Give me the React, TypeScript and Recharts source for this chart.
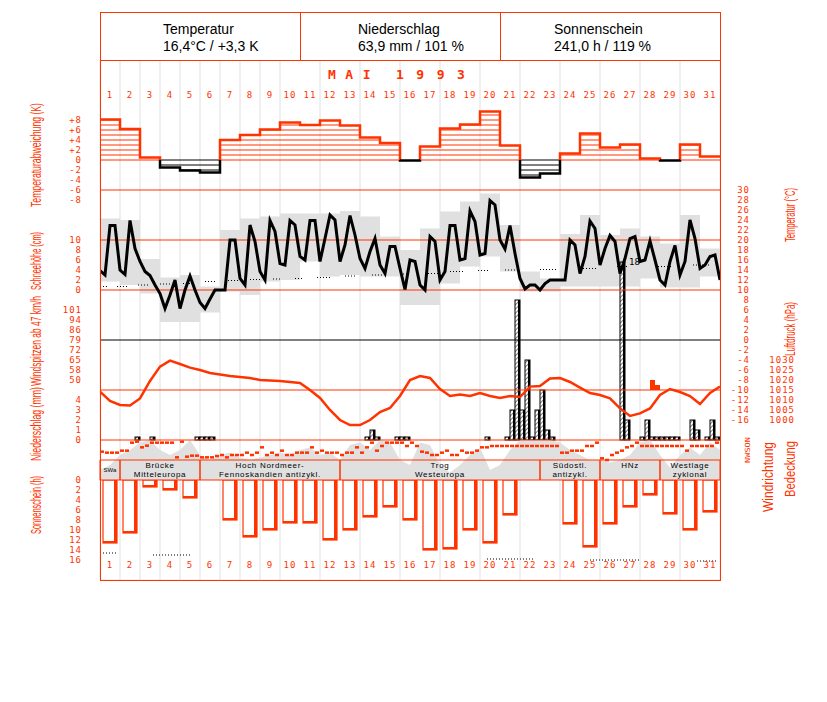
import React from 'react';
import {
  ComposedChart,
  Bar,
  Line,
  Area,
  Scatter,
  XAxis,
  YAxis,
  CartesianGrid,
  ReferenceLine,
  ReferenceArea,
} from 'recharts';

const RED = '#ff3300';
const GREY = '#e0e0e0';
const MONO = '"DejaVu Sans Mono", monospace';
const SANS = '"Liberation Sans", Arial, sans-serif';

// page geometry of the plot strip (all layers share it)
const W = 827;
const H = 520;
const TOP = 60;
const PLOT_LEFT = 100;
const PLOT_RIGHT = 720;

const days = Array.from({ length: 31 }, (_, i) => i + 1);

// Temperaturabweichung vom Mittel, je Tag (K)
const tempDeviation = [
  8.1, 6.2, 0.5, -1.5, -2.1, -2.5, 4.0, 5.0, 6.1, 7.5, 7.0, 7.9, 6.9, 4.5, 3.4, -0.1,
  2.7, 6.3, 7.1, 9.7, 2.9, -3.5, -2.7, 1.3, 5.3, 2.5, 3.1, 0.3, -0.1, 3.1, 0.7,
];

// Lufttemperatur, 6-stuendlich ab 1. Mai 00 Uhr (°C)
const temperature6h = [
  13.9, 13.0, 22.9, 22.9, 14.0, 13.1, 23.9, 18.3, 15.7, 13.7,
  12.9, 11.0, 9.3, 6.3, 9.0, 12.0, 6.3, 10.0, 12.8, 10.0,
  7.5, 6.3, 8.2, 10.0, 10.0, 10.0, 20.0, 20.0, 12.3, 11.0,
  23.0, 19.7, 13.7, 12.0, 23.9, 21.7, 15.3, 15.0, 23.9, 23.0,
  16.7, 16.0, 23.9, 23.9, 15.7, 20.3, 25.0, 24.0, 15.7, 19.0,
  24.9, 21.0, 16.3, 14.3, 17.7, 20.3, 15.0, 13.3, 18.7, 18.7,
  14.3, 10.1, 16.0, 15.7, 11.0, 10.0, 20.7, 19.7, 12.0, 13.7,
  22.9, 22.9, 16.0, 16.3, 25.8, 23.7, 17.0, 17.3, 27.9, 27.0,
  20.0, 18.2, 22.9, 17.3, 12.3, 10.2, 11.0, 11.0, 10.0, 11.3,
  12.0, 12.0, 12.0, 12.0, 20.0, 19.0, 13.3, 16.7, 23.8, 22.3,
  15.0, 18.3, 20.9, 19.7, 13.3, 16.3, 20.3, 20.7, 15.7, 16.0,
  19.8, 16.0, 12.0, 11.0, 15.7, 18.9, 13.0, 15.7, 24.0, 20.3,
  14.3, 15.0, 16.7, 17.0, 12.0,
];

// graue Tagesfelder (Temperaturbereich je Tag, °C)
const tempBoxLow = [
  11.7, 11.0, 9.3, 3.6, 3.6, 5.5, 9.7, 9.0, 11.7, 12.0, 15.7, 12.7, 13.0, 12.7, 12.7, 7.0,
  7.0, 11.3, 14.7, 16.7, 13.7, 9.7, 9.7, 10.7, 10.7, 10.7, 10.7, 12.3, 10.5, 10.5, 12.7,
];
const tempBoxHigh = [
  24.3, 24.0, 16.2, 12.5, 13.0, 10.7, 22.0, 24.3, 24.7, 25.3, 25.3, 25.3, 25.8, 24.7, 20.7, 18.0,
  22.3, 25.7, 27.7, 29.3, 23.0, 13.7, 12.3, 21.2, 25.0, 21.0, 22.3, 20.7, 19.3, 25.0, 18.3,
];

// punktierte Normaltemperatur (von Tag, bis Tag, °C)
const normalTempSegments = [
  [0, 0.35, 10.7], [0.85, 1.4, 10.7], [1.9, 2.5, 11.0], [3.0, 3.6, 11.2], [4.15, 4.75, 11.3],
  [5.25, 5.85, 11.7], [6.4, 7.0, 11.9], [7.5, 8.0, 12.1], [8.65, 9.1, 12.2], [9.75, 10.15, 12.3],
  [10.85, 11.5, 12.5], [12.25, 12.75, 12.8], [13.6, 14.1, 13.0], [15.0, 15.35, 13.2],
  [16.4, 16.9, 13.3], [17.5, 18.15, 13.7], [18.9, 19.5, 13.9], [20.25, 20.85, 14.0],
  [22.0, 22.85, 14.1], [24.15, 24.85, 14.3], [25.85, 26.35, 14.7], [27.9, 28.6, 14.7],
  [29.65, 30.5, 15.0],
];

// Luftdruck, 12-stuendlich (hPa)
const pressure12h = [
  1014.2, 1009.5, 1007.5, 1007.2, 1010.8, 1019.5, 1026.7, 1029.7, 1028.0, 1026.2,
  1025.0, 1023.5, 1022.8, 1022.0, 1021.5, 1021.0, 1020.0, 1019.8, 1019.5, 1019.0,
  1018.5, 1015.0, 1011.0, 1005.0, 1000.0, 997.5, 997.5, 1000.0, 1004.0, 1006.0,
  1012.0, 1020.0, 1022.0, 1021.0, 1015.5, 1012.0, 1012.8, 1012.0, 1013.5, 1012.0,
  1011.0, 1012.0, 1011.5, 1016.7, 1017.0, 1020.8, 1021.0, 1019.0, 1016.2, 1013.5,
  1012.5, 1010.8, 1005.8, 1002.0, 1003.3, 1005.8, 1012.5, 1015.5, 1014.0, 1012.0,
  1008.0, 1013.5, 1016.7,
];

// Bedeckung, 12-stuendlich (Achtel)
const cloud12h = [
  2, 3, 5, 6, 7.5, 8, 6, 5, 6, 8, 5, 4, 5, 5.5, 4.5, 4, 4.5, 5, 5.5, 5, 6, 6.5, 5, 5.5, 4,
  7, 7.5, 6, 8, 7.5, 4, 3, 7.5, 7, 3, 1.5, 3, 5, 6.5, 2, 3, 6, 8, 8, 8, 8, 7.5, 6, 5, 4, 4,
  3.5, 4, 5, 7.5, 8, 5, 2.5, 5, 6.5, 5, 7.5, 6,
];

// Windrichtung, 6-stuendlich (Grad)
const windDir6h = [
  210, 228, 228, 228, 192, 192, 48, 30, 132, 102,
  48, 48, 48, 48, 48, 312, 30, 300, 282, 282,
  312, 312, 312, 288, 270, 312, 270, 270, 270, 228,
  270, 228, 132, 270, 228, 270, 192, 270, 270, 228,
  228, 228, 132, 228, 192, 228, 228, 228, 270, 228,
  228, 132, 228, 132, 48, 192, 108, 48, 48, 48,
  48, 108, 48, 108, 210, 228, 270, 270, 228, 192,
  270, 270, 192, 228, 228, 192, 132, 132, 108, 108,
  108, 108, 108, 108, 108, 108, 108, 108, 108, 108,
  108, 108, 228, 228, 192, 192, 192, 108, 108, 48,
  330, 360, 270, 228, 192, 132, 108, 48, 108, 108,
  108, 108, 108, 108, 108, 108, 108, 192, 108, 108,
  108, 108, 108, 48, 132,
];

// Niederschlag je 6-h-Abschnitt (Abschnitt, mm)
const precipEvents = [
  [7, 0.3], [10, 0.3], [19, 0.3], [20, 0.3], [21, 0.3], [22, 0.3],
  [53, 0.3], [54, 1.0], [55, 0.3], [59, 0.3], [60, 0.3], [61, 0.3], [77, 0.3],
  [81, 0.3], [82, 3.0], [83, 14.0], [84, 3.0], [85, 8.0], [86, 0.3], [87, 3.0], [88, 5.0],
  [89, 1.0], [90, 0.3], [104, 17.8], [105, 2.0], [108, 0.3], [109, 2.0], [110, 0.3],
  [111, 0.3], [112, 0.3], [113, 0.3], [114, 0.3], [115, 0.3], [118, 2.0], [119, 1.0],
  [121, 0.3], [122, 2.0], [123, 0.3],
];

// Windspitzen (Abschnitt, m/s) und Grundwert der Saeulen
const gustEvents = [[110, 14], [111, 13]];
const GUST_BASE = 12;

// Sonnenscheindauer je Tag (h)
const sunshine = [
  12.6, 10.6, 1.4, 2.0, 3.6, 0, 8.0, 11.4, 10.0, 8.6, 8.6, 12.0, 10.0, 7.4, 5.4, 8.0,
  14.0, 13.8, 10.0, 12.6, 7.0, 0, 0, 8.8, 13.4, 8.8, 5.4, 3.0, 6.8, 10.0, 6.4,
];

// moegliche Sonnenscheindauer (von Tag, bis Tag, h)
const sunPossibleSegments = [
  [0, 0.9, 14.6], [2.65, 4.5, 15.0], [19.35, 21.75, 15.8], [24.5, 27.0, 16.0], [29.85, 30.9, 16.2],
];

// Grosswetterlagen (von Tag, bis Tag, Text)
const weatherTypes: { from: number; to: number; lines: string[] }[] = [
  { from: 0, to: 1, lines: ['SWa'] },
  { from: 1, to: 5, lines: ['Brücke', 'Mitteleuropa'] },
  { from: 5, to: 12, lines: ['Hoch Nordmeer-', 'Fennoskandien antizykl.'] },
  { from: 12, to: 22, lines: ['Trog', 'Westeuropa'] },
  { from: 22, to: 25, lines: ['Südostl.', 'antizykl.'] },
  { from: 25, to: 28, lines: ['HNz'] },
  { from: 28, to: 31, lines: ['Westlage', 'zyklonal'] },
];

const headerCells = [
  { title: 'Temperatur', value: '16,4°C / +3,3 K', width: 200, indent: 63 },
  { title: 'Niederschlag', value: '63,9 mm / 101 %', width: 200, indent: 57 },
  { title: 'Sonnenschein', value: '241,0 h / 119 %', width: 221, indent: 53 },
];

const devTicks = [-8, -6, -4, -2, 0, 2, 4, 6, 8];
const snowTicks = [0, 2, 4, 6, 8, 10];
const gustTicks = [14, 16, 18, 20, 22, 24, 26, 28];
const precipTicks = [0, 1, 2, 3, 4];
const sunTicks = [0, 2, 4, 6, 8, 10, 12, 14, 16];
const tempTicks = [-16, -14, -12, -10, -8, -6, -4, -2, 0, 2, 4, 6, 8, 10, 12, 14, 16, 18, 20, 22, 24, 26, 28, 30];
const pressureTicks = [1000, 1005, 1010, 1015, 1020, 1025, 1030];

// ---- tables built from the arrays above ----
const dayData = days.map((day, i) => ({
  day,
  dev: tempDeviation[i],
  lo: tempBoxLow[i],
  hi: tempBoxHigh[i],
  sun: sunshine[i],
}));
const slots = Array.from({ length: 124 }, (_, slot) => slot);
const precipData = slots.map((slot) => ({ slot, mm: precipEvents.find((e) => e[0] === slot)?.[1] ?? 0 }));
const gustData = slots.map((slot) => ({ slot, gust: gustEvents.find((e) => e[0] === slot)?.[1] ?? GUST_BASE }));
const tempData = temperature6h.map((t, i) => ({ x: i / 4, t }));
const pressureData = pressure12h.map((p, i) => ({ x: i / 2, p }));
const cloudData = cloud12h.map((c, i) => ({ x: i / 2, c }));
const windData = windDir6h.map((d, i) => ({ x: i / 4 + 0.1, dir: Math.min(d, 360) }));
const segData = (segs: number[][]) =>
  segs.flatMap(([a, b, v]) => [{ x: a, v }, { x: b, v }, { x: b, v: null }]);
const normalData = segData(normalTempSegments);
const sunPossibleData = segData(sunPossibleSegments);

// step outline of the deviation bars: red above, black below zero
const devStep = tempDeviation.flatMap((v, i) => {
  const pos = v >= 0 ? v : null;
  const neg = v < 0 ? v : null;
  const pts: { x: number; pos: number | null; neg: number | null }[] = [
    { x: i, pos, neg },
    { x: i + 1, pos, neg },
  ];
  const next = tempDeviation[i + 1];
  if (next !== undefined && v >= 0 !== next >= 0) pts.push({ x: i + 1, pos: 0, neg: 0 });
  return pts;
});

const dayEdges = Array.from({ length: 32 }, (_, i) => i);
const rowEdges = Array.from({ length: 53 }, (_, i) => i);
const gridData = dayEdges.map((x) => ({ x }));

// ---- shapes ----
const DevShape = (p: any) => {
  const { x, y, width, height, payload } = p;
  const v = payload.dev;
  if (!height || Math.abs(v) < 0.2) return null;
  const base = v > 0 ? Math.max(y, y + height) : Math.min(y, y + height);
  const ppu = Math.abs(height / v);
  const dir = v > 0 ? -1 : 1;
  const color = v > 0 ? RED : '#000';
  const n = Math.floor(Math.abs(v) + 0.01);
  const lines = [];
  for (let k = 0; k <= n; k++) {
    const yy = base + dir * k * ppu;
    lines.push(<line key={k} x1={x} x2={x + width} y1={yy} y2={yy} stroke={color} strokeWidth={1} />);
  }
  const topY = base + dir * Math.abs(height);
  lines.push(<line key="top" x1={x} x2={x + width} y1={topY} y2={topY} stroke={color} strokeWidth={1} />);
  return <g>{lines}</g>;
};

const HatchShape = (p: any) => {
  const { x, y, width, height, payload } = p;
  const top = Math.min(y, y + height);
  const h = Math.abs(height);
  if (!payload.mm || h < 0.5) return null;
  return (
    <g>
      <rect x={x} y={top} width={width} height={h} fill="url(#hatch)" stroke="#000" strokeWidth={1} />
      <rect x={x + width - 2} y={top} width={2} height={h} fill="#000" />
      {payload.mm > 15 && (
        <text x={x + width + 4} y={top} dy="0.35em" fontSize={9} fontFamily={MONO} fill="#000">
          {Math.round(payload.mm)}
        </text>
      )}
    </g>
  );
};

const SunShape = (p: any) => {
  const { x, y, width, height } = p;
  const top = Math.min(y, y + height);
  const h = Math.abs(height);
  if (h < 0.5) return null;
  return (
    <g>
      <rect x={x} y={top} width={width} height={h} fill="#fff" stroke={RED} strokeWidth={1.2} />
      <rect x={x + width - 3} y={top} width={3} height={h} fill={RED} />
      <rect x={x} y={top + h - 2} width={width} height={2} fill={RED} />
    </g>
  );
};

const CellLabel = (p: any) => {
  const vb = p.viewBox;
  if (!vb) return null;
  const cx = vb.x + vb.width / 2;
  const small = p.lines[0] === 'SWa';
  return (
    <text textAnchor="middle" fontFamily={SANS} fontSize={small ? 6 : 8} letterSpacing={small ? 0 : 0.7} fill="#000">
      {p.lines.map((l: string, i: number) => (
        <tspan key={i} x={cx} y={vb.y + (small ? vb.height / 2 : 5.5 + i * 9)} dy="0.35em">
          {l}
        </tspan>
      ))}
    </text>
  );
};

// ---- axes helpers ----
const margin = (l: number, r: number) => ({ top: 0, bottom: 0, left: PLOT_LEFT - l, right: W - PLOT_RIGHT - r });

const tickText = { fill: RED, fontSize: 9, fontFamily: MONO, letterSpacing: 1 };

const leftAxis = (id: string, domain: number[], ticks: number[], fmt = (v: number) => String(v), reversed = false) => (
  <YAxis
    yAxisId={id}
    orientation="left"
    width={60}
    type="number"
    domain={domain}
    ticks={ticks}
    reversed={reversed}
    allowDataOverflow
    axisLine={false}
    tickLine={false}
    tickSize={0}
    tickMargin={18}
    interval={0}
    tick={(p: any) => (
      <text x={p.x} y={p.y} dy="0.35em" textAnchor="end" {...tickText}>
        {fmt(p.payload.value)}
      </text>
    )}
  />
);

const rightAxis = (id: string, domain: number[], ticks: number[], offset: number) => (
  <YAxis
    yAxisId={id}
    orientation="right"
    width={80}
    type="number"
    domain={domain}
    ticks={ticks}
    allowDataOverflow
    axisLine={false}
    tickLine={false}
    tickSize={0}
    tickMargin={0}
    interval={0}
    tick={(p: any) => (
      <text x={p.x + offset} y={p.y} dy="0.35em" textAnchor="end" {...tickText}>
        {p.payload.value}
      </text>
    )}
  />
);

const hiddenY = (id: string, domain: number[], reversed = false) => (
  <YAxis yAxisId={id} hide type="number" domain={domain} reversed={reversed} allowDataOverflow />
);

const Layer = ({ children, data, l = 0, r = 0 }: { children: React.ReactNode; data?: any[]; l?: number; r?: number }) => (
  <div style={{ position: 'absolute', left: 0, top: TOP }}>
    <ComposedChart width={W} height={H} data={data} margin={margin(l, r)} barCategoryGap={0} barGap={0}>
      {children}
    </ComposedChart>
  </div>
);

// y domains chosen so each scale lands on its band of the sheet
const D_TEMP = [-48, 56];
const D_DEV = [-84, 20];
const D_SNOW = [-58, 46];
const D_PRECIP = [-14, 38];
const D_GUST = [-26, 78];
const D_PRESS = [920, 1180];
const D_CLOUD = [-20, 84];
const D_DIR = [-6840, 2520];
const D_SUN = [-84, 20];

const axisTitles = [
  { text: 'Temperaturabweichung (K)', x: 36, y: 155, len: 104 },
  { text: 'Schneehöhe (cm)', x: 36, y: 261, len: 58 },
  { text: 'Windspitzen ab 47 km/h', x: 36, y: 341, len: 90 },
  { text: 'Niederschlag (mm)', x: 36, y: 424, len: 74 },
  { text: 'Sonnenschein (h)', x: 36, y: 505, len: 58 },
  { text: 'Temperatur (°C)', x: 790, y: 215, len: 54 },
  { text: 'Luftdruck (hPa)', x: 790, y: 329, len: 54 },
  { text: 'Windrichtung', x: 768, y: 477, len: 70 },
  { text: 'Bedeckung', x: 790, y: 469, len: 56 },
];

const DayRow = ({ top }: { top: number }) => (
  <div style={{ position: 'absolute', left: PLOT_LEFT, top, display: 'flex' }}>
    {days.map((d) => (
      <div
        key={d}
        style={{ width: 20, height: 10, lineHeight: '10px', textAlign: 'center', color: RED, fontFamily: MONO, fontSize: 9, letterSpacing: 1 }}
      >
        {d}
      </div>
    ))}
  </div>
);

const App: React.FC = () => {
  return (
    <div style={{ position: 'absolute', left: 0, top: 0, width: W, height: 702, background: '#fff', overflow: 'hidden' }}>
      <svg width={0} height={0} style={{ position: 'absolute' }}>
        <defs>
          <pattern id="hatch" width="3" height="3" patternUnits="userSpaceOnUse" patternTransform="rotate(45)">
            <rect width="3" height="3" fill="#fff" />
            <line x1="0" y1="0" x2="0" y2="3" stroke="#000" strokeWidth="1" />
          </pattern>
        </defs>
      </svg>

      {/* grid and white weather-type cells */}
      <Layer data={gridData}>
        <XAxis type="number" dataKey="x" domain={[0, 31]} ticks={dayEdges} hide />
        <YAxis yAxisId="row" type="number" domain={[0, 52]} ticks={rowEdges} reversed hide />
        <CartesianGrid yAxisId="row" stroke={GREY} />
        {weatherTypes.map((w) => (
          <ReferenceArea key={w.from} yAxisId="row" x1={w.from} x2={w.to} y1={40} y2={42} fill="#fff" fillOpacity={1} stroke="none" />
        ))}
      </Layer>

      {/* grey daily temperature fields, snow and temperature axes */}
      <Layer data={dayData} l={60} r={80}>
        <XAxis dataKey="day" hide />
        {leftAxis('snow', D_SNOW, snowTicks)}
        {rightAxis('t', D_TEMP, tempTicks, 30)}
        <Bar yAxisId="t" dataKey={(d: any) => [d.lo, d.hi]} fill={GREY} isAnimationActive={false} />
      </Layer>

      {/* temperature deviation hatching, pressure axis */}
      <Layer data={dayData} l={60} r={80}>
        <XAxis dataKey="day" hide />
        {leftAxis('dev', D_DEV, devTicks, (v) => (v > 0 ? `+${v}` : String(v)))}
        {rightAxis('p', D_PRESS, pressureTicks, 75)}
        <Bar yAxisId="dev" dataKey="dev" shape={DevShape} isAnimationActive={false} />
      </Layer>

      {/* sunshine */}
      <Layer data={dayData} l={60}>
        <XAxis dataKey="day" hide />
        {leftAxis('sun', D_SUN, sunTicks, undefined, true)}
        <Bar yAxisId="sun" dataKey="sun" barSize={14} shape={SunShape} isAnimationActive={false} />
      </Layer>

      {/* precipitation */}
      <Layer data={precipData} l={60}>
        <XAxis dataKey="slot" hide />
        {leftAxis('pr', D_PRECIP, precipTicks)}
        <Bar yAxisId="pr" dataKey="mm" shape={HatchShape} isAnimationActive={false} />
      </Layer>

      {/* wind gusts */}
      <Layer data={gustData} l={60}>
        <XAxis dataKey="slot" hide />
        {leftAxis('g', D_GUST, gustTicks, (v) => String(Math.round(v * 3.6)))}
        <Bar yAxisId="g" dataKey={(d: any) => [GUST_BASE, d.gust]} fill={RED} isAnimationActive={false} />
      </Layer>

      {/* lines, areas, reference lines and weather types */}
      <Layer>
        <XAxis type="number" dataKey="x" domain={[0, 31]} hide allowDataOverflow />
        {hiddenY('t', D_TEMP)}
        {hiddenY('dev', D_DEV)}
        {hiddenY('pr', D_PRECIP)}
        {hiddenY('p', D_PRESS)}
        {hiddenY('cloud', D_CLOUD)}
        {hiddenY('dir', D_DIR, true)}
        {hiddenY('sun', D_SUN, true)}
        {hiddenY('row', [0, 52], true)}

        <Area
          data={cloudData}
          yAxisId="cloud"
          dataKey="c"
          type="linear"
          baseValue={0}
          fill={GREY}
          fillOpacity={1}
          stroke="none"
          isAnimationActive={false}
        />

        <ReferenceLine yAxisId="t" y={30} stroke={RED} strokeWidth={1} />
        <ReferenceLine yAxisId="t" y={20} stroke={RED} strokeWidth={1} />
        <ReferenceLine yAxisId="t" y={10} stroke={RED} strokeWidth={1} />
        <ReferenceLine yAxisId="t" y={0} stroke="#000" strokeWidth={1} />
        <ReferenceLine yAxisId="p" y={1015} stroke={RED} strokeWidth={1} />
        <ReferenceLine yAxisId="pr" y={0} stroke={RED} strokeWidth={1} />

        {weatherTypes.map((w) => (
          <ReferenceArea
            key={w.from}
            yAxisId="row"
            x1={w.from}
            x2={w.to}
            y1={40}
            y2={42}
            fill="none"
            stroke={RED}
            strokeWidth={1}
            label={<CellLabel lines={w.lines} />}
          />
        ))}

        <Line data={devStep} yAxisId="dev" dataKey="pos" type="linear" stroke={RED} strokeWidth={2.5} dot={false} activeDot={false} isAnimationActive={false} />
        <Line data={devStep} yAxisId="dev" dataKey="neg" type="linear" stroke="#000" strokeWidth={2.5} dot={false} activeDot={false} isAnimationActive={false} />

        <Line data={normalData} yAxisId="t" dataKey="v" type="linear" stroke="#000" strokeWidth={1} strokeDasharray="1 2" dot={false} activeDot={false} isAnimationActive={false} />
        <Line data={tempData} yAxisId="t" dataKey="t" type="linear" stroke="#000" strokeWidth={3} dot={false} activeDot={false} isAnimationActive={false} />
        <Line data={pressureData} yAxisId="p" dataKey="p" type="linear" stroke={RED} strokeWidth={2.5} dot={false} activeDot={false} isAnimationActive={false} />

        <Scatter
          data={windData}
          yAxisId="dir"
          dataKey="dir"
          isAnimationActive={false}
          shape={(p: any) => <rect x={p.cx - 2} y={p.cy - 1.25} width={4} height={2.5} fill={RED} />}
        />

        <Line data={sunPossibleData} yAxisId="sun" dataKey="v" type="linear" stroke="#000" strokeWidth={1} strokeDasharray="1 2" dot={false} activeDot={false} isAnimationActive={false} />
      </Layer>

      {/* frame and header */}
      <div style={{ position: 'absolute', left: PLOT_LEFT, top: 12, width: 621, height: 569, border: `1px solid ${RED}`, boxSizing: 'border-box' }} />
      <div style={{ position: 'absolute', left: PLOT_LEFT, top: 12, width: 621, height: 49, display: 'flex', borderBottom: `1px solid ${RED}`, boxSizing: 'border-box' }}>
        {headerCells.map((c, i) => (
          <div
            key={c.title}
            style={{
              width: c.width,
              height: '100%',
              boxSizing: 'border-box',
              borderLeft: i > 0 ? `1px solid ${RED}` : 'none',
              paddingLeft: c.indent,
              paddingTop: 9,
              fontFamily: SANS,
              fontSize: 14,
              lineHeight: '17px',
              color: '#000',
            }}
          >
            <div>{c.title}</div>
            <div>{c.value}</div>
          </div>
        ))}
      </div>

      <div style={{ position: 'absolute', left: 328, top: 68, color: RED, fontFamily: MONO, fontWeight: 'bold', fontSize: 13, lineHeight: '13px', letterSpacing: 9.5 }}>
        MAI
      </div>
      <div style={{ position: 'absolute', left: 396, top: 68, color: RED, fontFamily: MONO, fontWeight: 'bold', fontSize: 13, lineHeight: '13px', letterSpacing: 12.5 }}>
        1993
      </div>

      <DayRow top={90} />
      <DayRow top={560} />

      <svg width={W} height={702} style={{ position: 'absolute', left: 0, top: 0, pointerEvents: 'none' }}>
        {axisTitles.map((t) => (
          <text
            key={t.text}
            transform={`translate(${t.x},${t.y}) rotate(-90)`}
            textAnchor="middle"
            dominantBaseline="central"
            textLength={t.len}
            lengthAdjust="spacingAndGlyphs"
            fontSize={14}
            fontFamily={SANS}
            fill={RED}
          >
            {t.text}
          </text>
        ))}
        <text
          transform="translate(748,450) rotate(-90)"
          textAnchor="middle"
          dominantBaseline="central"
          textLength={26}
          lengthAdjust="spacingAndGlyphs"
          fontSize={7}
          fontFamily={MONO}
          fill={RED}
        >
          NWSON
        </text>
      </svg>
    </div>
  );
};

export default App;
